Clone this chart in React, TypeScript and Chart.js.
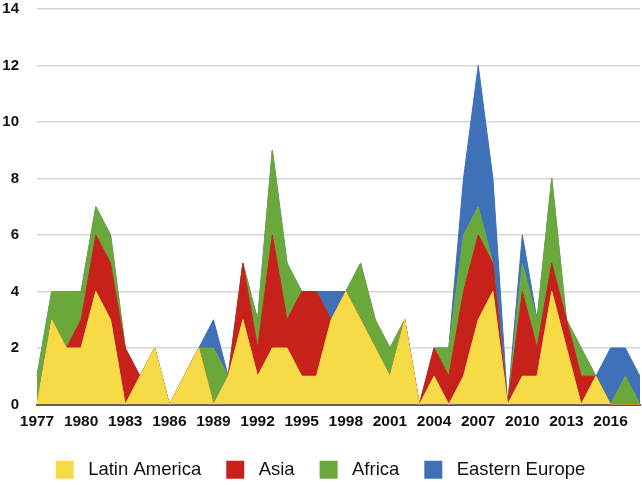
import React, { useEffect, useRef } from 'react';
import { Chart, registerables } from 'chart.js';

Chart.register(...registerables);

// Yearly counts per region, 1977–2018
const years = [
  '1977', '1978', '1979', '1980', '1981', '1982', '1983', '1984', '1985', '1986',
  '1987', '1988', '1989', '1990', '1991', '1992', '1993', '1994', '1995', '1996',
  '1997', '1998', '1999', '2000', '2001', '2002', '2003', '2004', '2005', '2006',
  '2007', '2008', '2009', '2010', '2011', '2012', '2013', '2014', '2015', '2016',
  '2017', '2018',
];

const latinAmerica = [
  0, 3, 2, 2, 4, 3, 0, 1, 2, 0,
  1, 2, 0, 1, 3, 1, 2, 2, 1, 1,
  3, 4, 3, 2, 1, 3, 0, 1, 0, 1,
  3, 4, 0, 1, 1, 4, 2, 0, 1, 0,
  0, 0,
];

const asia = [
  0, 0, 0, 1, 2, 2, 2, 0, 0, 0,
  0, 0, 0, 0, 2, 1, 4, 1, 3, 3,
  0, 0, 0, 0, 0, 0, 0, 1, 1, 3,
  3, 1, 0, 3, 1, 1, 1, 1, 0, 0,
  0, 0,
];

const africa = [
  1, 1, 2, 1, 1, 1, 0, 0, 0, 0,
  0, 0, 2, 0, 0, 1, 3, 2, 0, 0,
  0, 0, 2, 1, 1, 0, 0, 0, 1, 2,
  1, 0, 0, 1, 1, 3, 0, 1, 0, 0,
  1, 0,
];

const easternEurope = [
  0, 0, 0, 0, 0, 0, 0, 0, 0, 0,
  0, 0, 1, 0, 0, 0, 0, 0, 0, 0,
  1, 0, 0, 0, 0, 0, 0, 0, 0, 2,
  5, 3, 0, 1, 0, 0, 0, 0, 0, 2,
  1, 1,
];

const seriesNames = ['Latin America', 'Asia', 'Africa', 'Eastern Europe'];
const seriesColors = ['#F6DA46', '#C6211A', '#6BA83B', '#3E71B7'];

const fontFamily = "'Liberation Sans', Arial, sans-serif";

export default function App() {
  const canvasRef = useRef<HTMLCanvasElement | null>(null);

  useEffect(() => {
    if (!canvasRef.current) return;
    const values = [latinAmerica, asia, africa, easternEurope];
    const chart = new Chart(canvasRef.current, {
      type: 'line',
      data: {
        labels: years,
        datasets: values.map((data, i) => ({
          label: seriesNames[i],
          data,
          backgroundColor: seriesColors[i],
          borderColor: seriesColors[i],
          borderWidth: 1,
          pointRadius: 0,
          tension: 0,
          fill: i === 0 ? 'origin' : '-1',
        })),
      },
      options: {
        animation: false,
        responsive: true,
        maintainAspectRatio: false,
        layout: { padding: { left: 1, right: 2, top: 0, bottom: -4 } },
        plugins: {
          tooltip: { enabled: false },
          legend: {
            position: 'bottom',
            labels: {
              boxWidth: 18,
              boxHeight: 18,
              padding: 25,
              color: '#111',
              font: { family: fontFamily, size: 18.5 },
              generateLabels: (c: any) =>
                Chart.defaults.plugins.legend.labels
                  .generateLabels(c)
                  .map((item: any) => ({ ...item, text: ' ' + item.text, lineWidth: 0 })),
            },
          },
        },
        scales: {
          x: {
            grid: { display: false, drawTicks: false },
            border: { display: true, color: '#5a5a5a', width: 2 },
            ticks: {
              autoSkip: false,
              maxRotation: 0,
              padding: 8,
              color: '#111',
              font: { family: fontFamily, size: 15.5, weight: 'bold' },
              callback: (_v: any, index: number) => (index % 3 === 0 ? years[index] : ''),
            },
            afterFit: (axis: any) => {
              axis.height = 31;
              axis.paddingRight = 0;
            },
          },
          y: {
            stacked: true,
            min: 0,
            max: 14,
            grid: { color: '#d6d6d6', lineWidth: 1.5, drawTicks: false },
            border: { display: false },
            ticks: {
              stepSize: 2,
              padding: 18,
              color: '#111',
              font: { family: fontFamily, size: 15, weight: 'bold' },
            },
            afterFit: (axis: any) => {
              axis.width = 36;
              axis.paddingTop = 9;
            },
          },
        },
      },
    });
    return () => chart.destroy();
  }, []);

  return (
    <div style={{ position: 'fixed', left: 0, top: 0, width: 642, height: 485, background: '#fff' }}>
      <canvas ref={canvasRef} />
    </div>
  );
}
